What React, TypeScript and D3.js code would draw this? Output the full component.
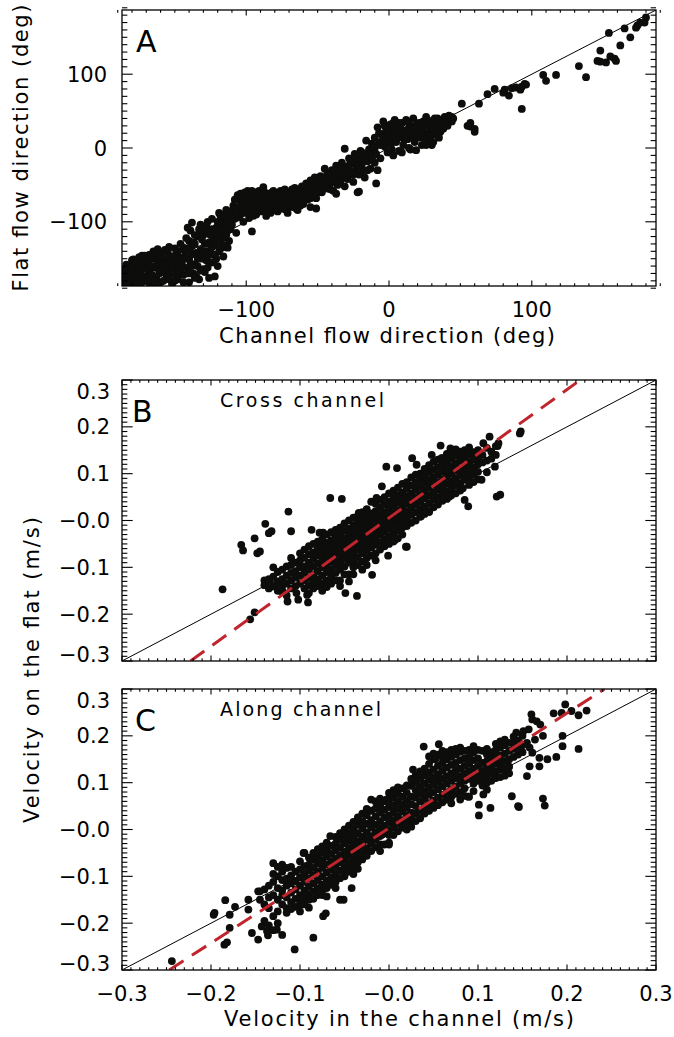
import React from 'react';
import * as d3 from 'd3';

type Pt = [number, number];

const FONT = "'DejaVu Sans', Verdana, sans-serif";
const MINUS = '\u2212';

// ---------- Panel A : flow direction (deg), [channel, flat] ----------
const dirLowerBlob: Pt[] = [
  [-186,-184],[-185,-176],[-184,-168],[-183,-181],[-182,-160],[-181,-172],[-180,-152],[-179,-184],[-178,-165],[-177,-176],
  [-176,-158],[-175,-148],[-174,-170],[-173,-182],[-172,-162],[-171,-146],[-170,-176],[-169,-155],[-168,-168],[-167,-185],
  [-166,-150],[-165,-140],[-164,-162],[-163,-175],[-162,-156],[-161,-143],[-160,-182],[-159,-168],[-158,-152],[-157,-138],
  [-156,-176],[-155,-160],[-154,-146],[-153,-170],[-152,-184],[-151,-155],[-150,-136],[-149,-165],[-148,-178],[-147,-148],
  [-146,-130],[-145,-158],[-144,-172],[-143,-140],[-142,-122],[-141,-164],[-140,-182],[-140,-150],[-139,-112],[-138,-132],
  [-137,-170],[-136,-158],[-135,-142],[-134,-120],[-133,-178],[-132,-104],[-131,-150],[-130,-164],[-129,-130],[-128,-140],
  [-127,-115],[-126,-176],[-125,-155],[-124,-96],[-123,-125],[-122,-145],[-121,-108],[-120,-160],[-119,-88],[-118,-118],
  [-117,-135],[-116,-147],[-115,-100],[-114,-84],[-113,-112],[-112,-126],[-111,-92],[-110,-104],[-109,-78],[-108,-96],
  [-107,-115],[-106,-86],[-105,-70],
  [-183,-176],[-178,-178],[-174,-160],[-170,-164],[-166,-172],[-163,-148],[-160,-160],[-157,-165],[-154,-178],[-150,-146],
  [-148,-158],[-146,-170],[-144,-135],[-142,-150],[-140,-126],[-138,-144],[-136,-118],[-134,-160],[-132,-138],[-130,-118],
  [-128,-152],[-126,-128],[-124,-110],[-122,-132],[-120,-100],[-118,-104],[-116,-122],[-112,-98],[-110,-88],[-122,-174],
  [-135,-174],[-138,-101],[-141,-108],[-179,-151],[-173,-146],[-162,-137],[-154,-134],[-186,-170],[-182,-185],[-177,-168],
  [-171,-180],[-168,-158],[-164,-184],[-159,-145],[-156,-168],[-152,-162],[-149,-174],[-145,-150],[-143,-162],[-139,-156],
  [-137,-128],[-133,-145],[-131,-112],[-129,-168],[-127,-100],[-125,-138],[-121,-150],[-119,-128],[-117,-94],[-114,-108],
  [-113,-135],
  [-185,-165],[-184,-158],[-181,-178],[-180,-166],[-178,-155],[-176,-182],[-175,-166],[-173,-152],[-172,-174],[-169,-178],
  [-168,-145],[-166,-160],[-165,-180],[-163,-162],[-161,-170],[-160,-150],[-158,-180],[-157,-158],[-155,-140],[-155,-172],
  [-153,-152],[-151,-168],[-150,-180],[-148,-140],[-147,-165],[-146,-152],[-144,-182],[-143,-148],[-141,-136],[-140,-170],
  [-139,-140],[-138,-160],[-136,-130],[-136,-176],[-134,-150],[-133,-110],[-132,-166],[-131,-124],[-130,-140],[-129,-150],
  [-128,-106],[-127,-162],[-126,-145],[-125,-118],[-124,-134],[-123,-155],[-122,-112],[-121,-128],[-120,-118],[-119,-140],
  [-118,-92],[-117,-110],[-116,-132],[-115,-90],[-114,-118],[-113,-100],[-112,-86],[-111,-110],[-110,-96],
];

const dirMidBand: Pt[] = [
  [-104,-62],[-104,-90],[-103,-75],[-102,-100],[-101,-68],[-100,-84],[-99,-58],[-98,-95],[-97,-72],[-96,-113],
  [-95,-80],[-94,-64],[-93,-90],[-92,-74],[-91,-58],[-90,-86],[-89,-68],[-88,-53],[-87,-78],[-86,-92],
  [-85,-64],[-84,-72],[-83,-88],[-82,-60],[-81,-80],[-80,-68],[-79,-62],[-78,-86],[-77,-74],[-76,-58],
  [-75,-82],[-74,-66],[-73,-56],[-72,-76],[-71,-88],[-70,-64],[-69,-70],[-68,-56],[-67,-80],[-66,-62],
  [-65,-72],[-64,-84],[-63,-58],[-62,-66],[-61,-52],[-60,-76],[-102,-80],[-99,-88],[-96,-70],[-94,-82],
  [-92,-64],[-90,-76],[-88,-84],[-86,-70],[-84,-62],[-82,-76],[-80,-84],[-78,-70],[-76,-78],[-74,-74],
  [-72,-62],[-70,-80],[-68,-68],[-66,-76],[-64,-64],[-62,-78],[-55,-80],[-51,-82],
  [-108,-70],[-107,-82],[-106,-64],[-105,-94],[-104,-78],[-103,-66],[-102,-88],[-101,-60],[-100,-72],[-99,-80],
  [-98,-66],[-97,-86],[-96,-58],[-95,-92],[-94,-72],[-93,-60],[-92,-84],[-91,-70],[-90,-62],[-89,-80],
  [-88,-72],[-87,-60],[-86,-82],[-85,-74],[-84,-86],[-83,-64],[-82,-68],[-81,-58],[-80,-76],[-79,-82],
  [-78,-62],[-77,-66],[-76,-72],[-75,-60],[-74,-82],[-73,-70],[-72,-84],[-71,-60],[-70,-72],[-69,-62],
  [-68,-78],[-67,-66],[-66,-54],[-65,-82],[-64,-74],[-63,-68],[-62,-58],[-61,-72],[-60,-62],
];

const dirSteepBand: Pt[] = [
  [-59,-60],[-58,-48],[-57,-70],[-56,-56],[-55,-44],[-54,-62],[-53,-52],[-52,-40],[-51,-68],[-50,-56],
  [-49,-46],[-48,-38],[-47,-60],[-46,-50],[-45,-28],[-44,-42],[-43,-55],[-42,-36],[-41,-48],[-40,-30],
  [-39,-58],[-38,-40],[-37,-24],[-36,-50],[-35,-34],[-34,-44],[-33,-20],[-32,-36],[-31,-1],[-31,-52],
  [-30,-26],[-29,-42],[-28,-14],[-27,-32],[-26,-20],[-25,-46],[-24,-8],[-23,-28],[-22,-60],[-22,-16],
  [-21,-36],[-20,-4],[-19,-22],[-18,-12],[-17,-40],[-16,10],[-15,-18],[-14,-2],[-13,-28],[-12,6],
  [-11,-10],[-10,-20],[-9,-48],[-10,14],
  [-58,-64],[-56,-66],[-54,-50],[-52,-58],[-50,-44],[-48,-52],[-46,-40],[-44,-54],[-42,-46],[-40,-40],
  [-38,-32],[-36,-38],[-34,-30],[-32,-26],[-30,-38],[-28,-24],[-26,-34],[-24,-18],[-22,-26],[-20,-14],
  [-18,-30],[-16,-8],[-14,-16],[-12,-4],[-10,0],[-37,-62],[-21,-59],
  [-59,-52],[-57,-58],[-55,-68],[-53,-44],[-51,-50],[-49,-60],[-47,-42],[-45,-52],[-43,-34],[-41,-56],
  [-39,-44],[-37,-32],[-35,-46],[-33,-28],[-31,-40],[-29,-30],[-27,-20],[-25,-36],[-23,-14],[-21,-24],
  [-19,-6],[-17,-16],[-15,-30],[-13,-8],[-11,2],[-9,-8],[-8,-30],[-7,20],
];

const dirUpperBand: Pt[] = [
  [-8,28],[-7,8],[-6,-14],[-5,18],[-4,36],[-3,2],[-2,24],[-1,-6],[0,12],[1,32],
  [2,-2],[3,20],[4,38],[5,8],[6,26],[7,-4],[8,16],[9,34],[10,4],[11,22],
  [12,38],[13,12],[14,28],[15,-2],[16,18],[17,40],[18,8],[19,-3],[20,24],[21,34],
  [22,14],[23,4],[24,28],[25,20],[26,42],[27,10],[28,32],[29,24],[30,4],[31,36],
  [32,18],[33,28],[34,40],[35,14],[36,30],[37,36],[38,26],[39,42],[40,32],[41,38],
  [42,44],[43,36],[44,42],[45,40],[26,4],[31,8],
  [-6,4],[-4,14],[-2,8],[0,26],[2,14],[4,28],[6,14],[8,30],[10,14],[12,24],
  [14,20],[16,30],[18,26],[20,32],[22,22],[24,36],[28,18],[30,26],[33,34],[36,22],
  [-3,30],[-1,16],[1,6],[3,34],[5,22],[7,34],[9,20],[11,12],[13,36],[15,26],
  [17,14],[19,30],[21,20],[23,34],[25,12],[27,38],[29,16],[32,40],[35,36],[38,34],
  [41,30],[44,36],[3,-10],[9,-6],[14,0],
];

const dirOutliers: Pt[] = [
  [180,177],[179,170],[176,170],[174,166],[173,163],[165,162],[169,150],[162,139],[154,156],[148,132],
  [146,118],[148,117],[152,116],[155,124],[158,121],[159,118],[133,111],[138,96],[117,99],[108,99],
  [110,91],[96,86],[92,79],[93,53],[86,81],[84,71],[81,79],[80,75],[74,80],[69,73],
  [63,60],[51,60],[57,34],[57,29],[55,30],[60,26],[60,22],[93,83],[95,87],[89,82],
];

// ---------- Panel B : cross-channel velocity (m/s), [channel, flat] ----------
const crossCore: Pt[] = [
  [-0.140,-0.138],[-0.140,-0.128],[-0.135,-0.145],[-0.135,-0.125],[-0.135,-0.133],
  [-0.130,-0.140],[-0.130,-0.120],[-0.130,-0.100],[-0.125,-0.130],[-0.125,-0.110],[-0.125,-0.150],
  [-0.120,-0.125],[-0.120,-0.105],[-0.120,-0.140],[-0.120,-0.152],
  [-0.115,-0.098],[-0.115,-0.118],[-0.115,-0.135],[-0.115,-0.160],
  [-0.110,-0.095],[-0.110,-0.112],[-0.110,-0.128],[-0.110,-0.145],
  [-0.105,-0.090],[-0.105,-0.108],[-0.105,-0.122],[-0.105,-0.140],
  [-0.100,-0.085],[-0.100,-0.100],[-0.100,-0.118],[-0.100,-0.135],
  [-0.095,-0.080],[-0.095,-0.098],[-0.095,-0.112],[-0.095,-0.128],[-0.095,-0.145],
  [-0.090,-0.072],[-0.090,-0.090],[-0.090,-0.105],[-0.090,-0.122],[-0.090,-0.138],
  [-0.085,-0.068],[-0.085,-0.082],[-0.085,-0.098],[-0.085,-0.115],[-0.085,-0.130],
  [-0.080,-0.060],[-0.080,-0.075],[-0.080,-0.092],[-0.080,-0.108],[-0.080,-0.125],[-0.080,-0.045],
  [-0.075,-0.055],[-0.075,-0.070],[-0.075,-0.085],[-0.075,-0.100],[-0.075,-0.118],[-0.075,-0.135],
  [-0.070,-0.048],[-0.070,-0.062],[-0.070,-0.078],[-0.070,-0.095],[-0.070,-0.110],[-0.070,-0.128],
  [-0.065,-0.042],[-0.065,-0.058],[-0.065,-0.072],[-0.065,-0.088],[-0.065,-0.104],[-0.065,-0.120],
  [-0.060,-0.035],[-0.060,-0.050],[-0.060,-0.065],[-0.060,-0.080],[-0.060,-0.095],[-0.060,-0.112],
  [-0.055,-0.030],[-0.055,-0.045],[-0.055,-0.060],[-0.055,-0.074],[-0.055,-0.090],[-0.055,-0.105],[-0.055,-0.128],
  [-0.050,-0.022],[-0.050,-0.038],[-0.050,-0.052],[-0.050,-0.068],[-0.050,-0.082],[-0.050,-0.098],
  [-0.045,-0.018],[-0.045,-0.032],[-0.045,-0.046],[-0.045,-0.060],[-0.045,-0.075],[-0.045,-0.090],[-0.045,-0.115],
  [-0.040,-0.010],[-0.040,-0.025],[-0.040,-0.040],[-0.040,-0.055],[-0.040,-0.070],[-0.040,-0.085],[-0.040,-0.100],
  [-0.035,-0.005],[-0.035,-0.020],[-0.035,-0.034],[-0.035,-0.048],[-0.035,-0.062],[-0.035,-0.078],[-0.035,0.010],
  [-0.030,0.002],[-0.030,-0.012],[-0.030,-0.027],[-0.030,-0.042],[-0.030,-0.056],[-0.030,-0.070],[-0.030,-0.088],
  [-0.025,0.008],[-0.025,-0.006],[-0.025,-0.020],[-0.025,-0.035],[-0.025,-0.050],[-0.025,-0.064],[-0.025,-0.080],
  [-0.020,0.015],[-0.020,0.000],[-0.020,-0.014],[-0.020,-0.028],[-0.020,-0.042],[-0.020,-0.058],[-0.020,0.040],
  [-0.015,0.020],[-0.015,0.006],[-0.015,-0.008],[-0.015,-0.022],[-0.015,-0.036],[-0.015,-0.052],[-0.015,-0.070],
  [-0.010,0.028],[-0.010,0.012],[-0.010,-0.002],[-0.010,-0.016],[-0.010,-0.030],[-0.010,-0.046],
  [-0.005,0.034],[-0.005,0.018],[-0.005,0.004],[-0.005,-0.010],[-0.005,-0.024],[-0.005,-0.040],
  [0.000,0.040],[0.000,0.025],[0.000,0.010],[0.000,-0.004],[0.000,-0.018],[0.000,-0.034],
  [0.005,0.048],[0.005,0.032],[0.005,0.016],[0.005,0.002],[0.005,-0.012],[0.005,-0.028],
  [0.010,0.054],[0.010,0.038],[0.010,0.022],[0.010,0.008],[0.010,-0.006],[0.010,-0.022],
  [0.015,0.060],[0.015,0.045],[0.015,0.030],[0.015,0.015],[0.015,0.000],[0.015,-0.015],
  [0.020,0.068],[0.020,0.052],[0.020,0.036],[0.020,0.020],[0.020,0.005],[0.020,0.082],
  [0.025,0.075],[0.025,0.058],[0.025,0.042],[0.025,0.028],[0.025,0.012],
  [0.030,0.082],[0.030,0.066],[0.030,0.050],[0.030,0.034],[0.030,0.018],
  [0.035,0.088],[0.035,0.072],[0.035,0.056],[0.035,0.040],[0.035,0.024],[0.035,0.100],
  [0.040,0.095],[0.040,0.080],[0.040,0.064],[0.040,0.048],[0.040,0.030],
  [0.045,0.102],[0.045,0.086],[0.045,0.070],[0.045,0.054],[0.045,0.036],[0.045,0.018],
  [0.050,0.108],[0.050,0.092],[0.050,0.076],[0.050,0.060],[0.050,0.044],[0.050,0.125],
  [0.055,0.114],[0.055,0.098],[0.055,0.082],[0.055,0.066],[0.055,0.050],
  [0.060,0.120],[0.060,0.104],[0.060,0.088],[0.060,0.072],[0.060,0.058],[0.060,0.133],
  [0.065,0.126],[0.065,0.110],[0.065,0.094],[0.065,0.078],[0.065,0.062],
  [0.070,0.132],[0.070,0.116],[0.070,0.100],[0.070,0.084],[0.070,0.068],
  [0.075,0.138],[0.075,0.122],[0.075,0.106],[0.075,0.090],[0.075,0.074],
  [0.080,0.144],[0.080,0.128],[0.080,0.112],[0.080,0.096],[0.080,0.080],
  [0.085,0.135],[0.085,0.118],[0.085,0.102],[0.085,0.087],
  [0.090,0.140],[0.090,0.124],[0.090,0.108],[0.090,0.092],
  [0.095,0.146],[0.095,0.130],[0.095,0.114],[0.095,0.098],
  [0.100,0.150],[0.100,0.135],[0.100,0.120],[0.100,0.104],
  [0.105,0.140],[0.105,0.124],[0.110,0.155],[0.110,0.128],[0.115,0.147],[0.115,0.132],
  [0.120,0.159],[0.120,0.140],
];

const crossSpread: Pt[] = [
  [-0.090,-0.155],[-0.085,-0.145],[-0.080,-0.140],[-0.075,-0.150],[-0.070,-0.142],[-0.065,-0.135],[-0.060,-0.128],
  [-0.055,-0.140],[-0.050,-0.115],[-0.045,-0.130],[-0.040,-0.115],[-0.035,-0.095],[-0.030,-0.105],[-0.025,-0.095],
  [-0.020,-0.075],[-0.015,-0.085],[-0.010,-0.062],[-0.005,-0.055],[0.000,-0.050],[0.005,-0.045],[0.010,-0.038],
  [0.015,-0.030],[0.020,-0.012],[0.025,-0.005],[0.030,0.000],[0.035,0.008],[0.040,0.014],[0.045,0.020],
  [0.050,0.028],[0.055,0.034],[0.060,0.042],[0.065,0.046],[0.070,0.054],[0.075,0.058],[0.080,0.064],
  [0.090,0.076],[0.095,0.082],[0.100,0.088],
  [-0.110,-0.080],[-0.100,-0.070],[-0.095,-0.062],[-0.090,-0.055],[-0.085,-0.050],[-0.075,-0.040],[-0.070,-0.030],
  [-0.065,-0.025],[-0.060,-0.020],[-0.055,-0.015],[-0.050,-0.006],[-0.045,0.000],[-0.040,0.006],[-0.030,0.018],
  [-0.025,0.024],[-0.015,0.036],[-0.010,0.044],[-0.005,0.050],[0.000,0.058],[0.005,0.064],[0.010,0.070],
  [0.015,0.078],[0.025,0.092],[0.030,0.098],[0.040,0.110],[0.045,0.118],[0.055,0.130],[0.065,0.142],
  [0.070,0.148],[0.075,0.152],[0.085,0.150],[0.090,0.156],
];

const crossOutliers: Pt[] = [
  [-0.187,-0.147],[-0.166,-0.052],[-0.164,-0.064],[-0.151,-0.038],[-0.148,-0.070],[-0.145,-0.066],[-0.139,-0.007],
  [-0.135,-0.027],[-0.132,-0.023],[-0.113,0.019],[-0.110,-0.023],[-0.156,-0.211],[-0.151,-0.196],[-0.087,-0.020],
  [-0.078,-0.026],[-0.074,-0.026],[-0.066,0.048],[-0.053,0.046],[-0.036,-0.161],[-0.134,-0.130],[-0.132,-0.141],
  [-0.124,-0.141],[-0.119,-0.152],[-0.114,-0.173],[-0.104,-0.155],[-0.102,-0.169],[-0.092,-0.159],[-0.091,-0.175],
  [-0.049,-0.155],[-0.019,-0.116],[0.019,-0.056],[-0.001,-0.075],[-0.003,0.115],[0.009,0.112],[-0.008,0.073],
  [-0.014,0.048],[-0.034,0.016],[0.026,0.133],[0.031,0.119],[0.048,0.140],[0.059,0.133],[0.058,0.160],
  [0.069,0.154],[0.080,0.147],[0.083,0.137],[0.095,0.133],[0.106,0.165],[0.113,0.179],[0.122,0.159],
  [0.123,0.165],[0.148,0.190],[0.147,0.186],[0.091,0.108],[0.110,0.103],[0.119,0.115],[0.104,0.087],
  [0.083,0.069],[0.085,0.044],[0.089,0.030],[0.068,0.051],[0.121,0.051],[0.125,0.055],[0.036,0.009],
  [0.020,-0.056],[0.007,-0.041],[0.018,-0.009],
];

// ---------- Panel C : along-channel velocity (m/s), [channel, flat] ----------
const alongCore: Pt[] = [
  [-0.145,-0.132],[-0.145,-0.150],[-0.140,-0.128],[-0.140,-0.160],[-0.140,-0.195],
  [-0.135,-0.120],[-0.135,-0.145],[-0.135,-0.168],[-0.135,-0.205],
  [-0.130,-0.072],[-0.130,-0.095],[-0.130,-0.140],[-0.130,-0.112],[-0.130,-0.185],[-0.130,-0.215],
  [-0.125,-0.080],[-0.125,-0.100],[-0.125,-0.125],[-0.125,-0.150],[-0.125,-0.175],[-0.125,-0.200],
  [-0.120,-0.090],[-0.120,-0.108],[-0.120,-0.130],[-0.120,-0.160],[-0.120,-0.140],[-0.120,-0.225],
  [-0.115,-0.082],[-0.115,-0.105],[-0.115,-0.120],[-0.115,-0.145],[-0.115,-0.168],[-0.115,-0.178],
  [-0.110,-0.098],[-0.110,-0.115],[-0.110,-0.135],[-0.110,-0.155],[-0.110,-0.107],
  [-0.105,-0.090],[-0.105,-0.110],[-0.105,-0.128],[-0.105,-0.148],[-0.105,-0.165],
  [-0.100,-0.085],[-0.100,-0.102],[-0.100,-0.120],[-0.100,-0.140],[-0.100,-0.150],[-0.100,-0.160],
  [-0.095,-0.050],[-0.095,-0.078],[-0.095,-0.095],[-0.095,-0.112],[-0.095,-0.130],[-0.095,-0.145],
  [-0.090,-0.075],[-0.090,-0.088],[-0.090,-0.105],[-0.090,-0.122],[-0.090,-0.138],[-0.090,-0.167],
  [-0.085,-0.065],[-0.085,-0.082],[-0.085,-0.098],[-0.085,-0.115],[-0.085,-0.132],
  [-0.080,-0.057],[-0.080,-0.072],[-0.080,-0.090],[-0.080,-0.108],[-0.080,-0.125],
  [-0.075,-0.050],[-0.075,-0.066],[-0.075,-0.082],[-0.075,-0.100],[-0.075,-0.118],[-0.075,-0.140],
  [-0.070,-0.042],[-0.070,-0.058],[-0.070,-0.075],[-0.070,-0.092],[-0.070,-0.110],[-0.070,-0.143],
  [-0.065,-0.035],[-0.065,-0.052],[-0.065,-0.068],[-0.065,-0.085],[-0.065,-0.102],
  [-0.060,-0.030],[-0.060,-0.045],[-0.060,-0.062],[-0.060,-0.078],[-0.060,-0.095],[-0.060,-0.112],[-0.060,-0.125],
  [-0.055,-0.022],[-0.055,-0.038],[-0.055,-0.055],[-0.055,-0.070],[-0.055,-0.088],
  [-0.050,-0.015],[-0.050,-0.030],[-0.050,-0.048],[-0.050,-0.064],[-0.050,-0.080],[-0.050,-0.100],
  [-0.045,-0.008],[-0.045,-0.024],[-0.045,-0.040],[-0.045,-0.056],[-0.045,-0.072],[-0.045,-0.090],
  [-0.040,0.000],[-0.040,-0.016],[-0.040,-0.032],[-0.040,-0.048],[-0.040,-0.064],[-0.040,-0.080],
  [-0.035,0.010],[-0.035,-0.008],[-0.035,-0.025],[-0.035,-0.040],[-0.035,-0.056],[-0.035,-0.070],
  [-0.030,0.018],[-0.030,0.002],[-0.030,-0.016],[-0.030,-0.032],[-0.030,-0.048],
  [-0.025,0.030],[-0.025,0.012],[-0.025,-0.006],[-0.025,-0.022],[-0.025,-0.040],
  [-0.020,0.040],[-0.020,0.064],[-0.020,0.020],[-0.020,0.004],[-0.020,-0.014],[-0.020,-0.030],
  [-0.015,0.045],[-0.015,0.028],[-0.015,0.010],[-0.015,-0.006],[-0.015,-0.022],
  [-0.010,0.052],[-0.010,0.036],[-0.010,0.018],[-0.010,0.002],[-0.010,-0.014],[-0.010,-0.032],
  [-0.005,0.060],[-0.005,0.042],[-0.005,0.026],[-0.005,0.008],[-0.005,-0.008],[-0.005,-0.032],
  [0.000,0.064],[0.000,0.048],[0.000,0.030],[0.000,0.014],[0.000,-0.002],[0.000,-0.028],
  [0.005,0.068],[0.005,0.052],[0.005,0.036],[0.005,0.020],[0.005,0.004],
  [0.010,0.060],[0.010,0.044],[0.010,0.028],[0.010,0.012],[0.010,0.076],
  [0.015,0.070],[0.015,0.054],[0.015,0.038],[0.015,0.020],[0.015,0.088],
  [0.020,0.078],[0.020,0.062],[0.020,0.046],[0.020,0.030],[0.020,0.016],
  [0.025,0.093],[0.025,0.070],[0.025,0.054],[0.025,0.036],[0.025,0.022],
  [0.030,0.100],[0.030,0.084],[0.030,0.068],[0.030,0.050],[0.030,0.034],
  [0.035,0.108],[0.035,0.092],[0.035,0.076],[0.035,0.060],[0.035,0.040],
  [0.040,0.115],[0.040,0.098],[0.040,0.082],[0.040,0.066],[0.040,0.050],
  [0.045,0.122],[0.045,0.106],[0.045,0.090],[0.045,0.074],[0.045,0.056],[0.045,0.140],
  [0.050,0.128],[0.050,0.112],[0.050,0.096],[0.050,0.080],[0.050,0.062],[0.050,0.150],
  [0.055,0.136],[0.055,0.118],[0.055,0.102],[0.055,0.086],[0.055,0.068],[0.055,0.160],
  [0.060,0.142],[0.060,0.125],[0.060,0.108],[0.060,0.092],[0.060,0.074],[0.060,0.155],
  [0.065,0.150],[0.065,0.132],[0.065,0.114],[0.065,0.098],[0.065,0.080],[0.065,0.165],
  [0.070,0.155],[0.070,0.138],[0.070,0.120],[0.070,0.104],[0.070,0.086],[0.070,0.070],
  [0.075,0.160],[0.075,0.142],[0.075,0.126],[0.075,0.110],[0.075,0.092],
  [0.080,0.166],[0.080,0.148],[0.080,0.130],[0.080,0.114],[0.080,0.098],[0.080,0.080],
  [0.085,0.168],[0.085,0.152],[0.085,0.136],[0.085,0.120],[0.085,0.104],[0.085,0.088],
  [0.090,0.170],[0.090,0.155],[0.090,0.140],[0.090,0.124],[0.090,0.108],[0.090,0.070],
  [0.095,0.165],[0.095,0.148],[0.095,0.130],[0.095,0.114],[0.095,0.098],
  [0.100,0.170],[0.100,0.152],[0.100,0.136],[0.100,0.120],[0.100,0.104],
  [0.105,0.168],[0.105,0.142],[0.105,0.125],[0.105,0.110],
  [0.110,0.160],[0.110,0.146],[0.110,0.130],[0.110,0.116],[0.110,0.100],
  [0.115,0.165],[0.115,0.150],[0.115,0.135],[0.115,0.120],
  [0.120,0.170],[0.120,0.155],[0.120,0.140],[0.120,0.124],[0.120,0.110],
  [0.125,0.175],[0.125,0.158],[0.125,0.142],[0.125,0.128],[0.125,0.188],
  [0.130,0.180],[0.130,0.162],[0.130,0.146],[0.130,0.130],
  [0.135,0.168],[0.135,0.150],[0.135,0.134],[0.135,0.185],
  [0.140,0.185],[0.140,0.172],[0.140,0.155],[0.145,0.190],[0.145,0.176],[0.145,0.160],
  [0.150,0.200],[0.150,0.180],[0.150,0.165],
];

const alongSpread: Pt[] = [
  [-0.110,-0.170],[-0.100,-0.175],[-0.095,-0.160],[-0.090,-0.150],[-0.085,-0.148],[-0.080,-0.140],[-0.075,-0.130],
  [-0.070,-0.125],[-0.065,-0.118],[-0.060,-0.108],[-0.055,-0.104],[-0.050,-0.095],[-0.045,-0.088],[-0.040,-0.095],
  [-0.035,-0.084],[-0.030,-0.064],[-0.025,-0.056],[-0.020,-0.046],[-0.015,-0.038],[-0.010,-0.046],[0.000,-0.012],
  [0.005,-0.012],[0.010,-0.004],[0.015,0.004],[0.020,0.000],[0.025,0.006],[0.030,0.018],[0.035,0.024],
  [0.040,0.034],[0.045,0.040],[0.050,0.046],[0.055,0.052],[0.060,0.058],[0.065,0.064],[0.070,0.056],
  [0.075,0.076],[0.080,0.064],[0.085,0.072],[0.095,0.082],[0.105,0.094],[0.110,0.085],[0.115,0.104],
  [0.125,0.112],[0.130,0.115],[0.135,0.120],
  [-0.120,-0.075],[-0.110,-0.080],[-0.100,-0.068],[-0.090,-0.060],[-0.085,-0.050],[-0.080,-0.042],[-0.075,-0.036],
  [-0.070,-0.028],[-0.060,-0.016],[-0.055,-0.008],[-0.050,0.000],[-0.045,0.008],[-0.040,0.016],[-0.035,0.026],
  [-0.030,0.034],[-0.025,0.044],[-0.015,0.060],[-0.010,0.066],[0.000,0.078],[0.005,0.084],[0.010,0.090],
  [0.020,0.094],[0.025,0.108],[0.030,0.116],[0.035,0.124],[0.040,0.130],[0.045,0.156],[0.050,0.162],
  [0.060,0.168],[0.070,0.170],[0.075,0.172],[0.080,0.175],[0.095,0.178],[0.110,0.172],[0.120,0.183],
  [0.130,0.192],[0.140,0.198],
];

const alongOutliers: Pt[] = [
  [-0.244,-0.281],[-0.185,-0.246],[-0.182,-0.241],[-0.196,-0.178],[-0.197,-0.182],[-0.184,-0.151],[-0.173,-0.165],
  [-0.179,-0.182],[-0.179,-0.210],[-0.158,-0.150],[-0.158,-0.171],[-0.154,-0.221],[-0.147,-0.235],[-0.147,-0.132],
  [-0.143,-0.207],[-0.137,-0.217],[-0.136,-0.226],[-0.126,-0.214],[-0.106,-0.256],[-0.085,-0.231],[-0.074,-0.185],
  [-0.071,-0.179],[-0.096,-0.050],[-0.066,-0.014],[-0.055,-0.150],[-0.051,-0.150],[-0.042,-0.125],
  [0.039,0.177],[0.056,0.182],[0.027,0.128],[0.052,0.150],[0.160,0.246],[0.161,0.235],[0.143,0.207],
  [0.151,0.210],[0.157,0.214],[0.166,0.231],[0.170,0.224],[0.173,0.200],[0.185,0.248],[0.194,0.249],
  [0.198,0.267],[0.205,0.253],[0.213,0.244],[0.222,0.254],[0.195,0.200],[0.195,0.178],[0.213,0.172],
  [0.188,0.155],[0.178,0.150],[0.169,0.153],[0.169,0.135],[0.158,0.135],[0.155,0.114],[0.138,0.071],
  [0.146,0.048],[0.145,0.050],[0.173,0.066],[0.175,0.051],[0.106,0.075],[0.101,0.053],[0.101,0.030],
  [0.114,0.046],[0.089,0.070],[-0.003,0.064],[-0.008,-0.011],[0.000,-0.032],[0.161,0.164],[0.158,0.175],
  [0.155,0.185],[0.164,0.192],
];

// ---------- axes ----------
const dirMajorTicks = [-100, 0, 100];
const dirTickLabels = [MINUS + '100', '0', '100'];
const velMajorTicks = [-0.3, -0.2, -0.1, 0, 0.1, 0.2, 0.3];
const velXTickLabels = [MINUS + '0.3', MINUS + '0.2', MINUS + '0.1', MINUS + '0.0', '0.1', '0.2', '0.3'];
const velYTickLabels = [MINUS + '0.3', MINUS + '0.2', MINUS + '0.1', MINUS + '0.0', '0.1', '0.2', '0.3'];

// regression fits [slope, intercept]
const crossFit = [1.37, 0.0055];
const alongFit = [1.227, 0.003];

const LEFT = 122;
const RIGHT = 656;

interface PanelProps {
  id: string;
  top: number;
  bottom: number;
  dom: number;
  pts: Pt[];
  major: number[];
  minorStep: number;
  xLabels?: string[];
  yLabels: string[];
  yLabelRight: number;
  letter: string;
  letterX: number;
  subtitle?: string;
  subLen?: number;
  fit?: number[];
}

function Panel(p: PanelProps) {
  const x = d3.scaleLinear().domain([-p.dom, p.dom]).range([LEFT, RIGHT]);
  const y = d3.scaleLinear().domain([-p.dom, p.dom]).range([p.bottom, p.top]);
  const W = RIGHT - LEFT;
  const H = p.bottom - p.top;
  const yMajLen = 0.02 * W, yMinLen = 0.01 * W;
  const xMajLen = 0.02 * H, xMinLen = 0.01 * H;
  const n = Math.round(p.dom / p.minorStep);
  const minor = d3.range(-n, n + 1).map((i) => i * p.minorStep);
  const isMajor = (v: number) => p.major.some((m) => Math.abs(m - v) < p.minorStep * 0.01);
  const ticks: any[] = [];
  minor.forEach((v, i) => {
    const maj = isMajor(v);
    const xl = maj ? xMajLen : xMinLen;
    const yl = maj ? yMajLen : yMinLen;
    const xv = x(v), yv = y(v);
    ticks.push(<line key={'xb' + i} x1={xv} x2={xv} y1={p.bottom} y2={p.bottom - xl} />);
    ticks.push(<line key={'xt' + i} x1={xv} x2={xv} y1={p.top} y2={p.top + xl} />);
    ticks.push(<line key={'yl' + i} x1={LEFT} x2={LEFT + yl} y1={yv} y2={yv} />);
    ticks.push(<line key={'yr' + i} x1={RIGHT} x2={RIGHT - yl} y1={yv} y2={yv} />);
  });
  let fitLine = null;
  if (p.fit) {
    const [s, b] = p.fit;
    const x0 = (-p.dom - b) / s;
    const x1 = (p.dom - b) / s;
    fitLine = (
      <line x1={x(x0)} y1={y(-p.dom)} x2={x(x1)} y2={y(p.dom)} stroke="#c0242c" strokeWidth={3}
        strokeDasharray="17 10" />
    );
  }
  return (
    <g>
      <defs>
        <clipPath id={'clip' + p.id}>
          <rect x={LEFT} y={p.top} width={W} height={H} />
        </clipPath>
      </defs>
      <g clipPath={`url(#clip${p.id})`}>
        <line x1={x(-p.dom)} y1={y(-p.dom)} x2={x(p.dom)} y2={y(p.dom)} stroke="#000" strokeWidth={1} />
        {p.pts.map((d, i) => (
          <circle key={i} cx={x(d[0])} cy={y(d[1])} r={3.9} fill="#0d0d0b" />
        ))}
        {fitLine}
      </g>
      <g stroke="#000" strokeWidth={1.1}>{ticks}</g>
      <rect x={LEFT} y={p.top} width={W} height={H} fill="none" stroke="#000" strokeWidth={1.3} />
      <g fontFamily={FONT} fontSize={21} fill="#000">
        {p.major.map((v, i) => {
          const cy = Math.min(Math.max(y(v), p.top + 11), p.bottom - 7);
          return (
            <text key={'yt' + i} x={p.yLabelRight} y={cy} dy="0.36em" textAnchor="end">{p.yLabels[i]}</text>
          );
        })}
        {p.xLabels && p.major.map((v, i) => (
          <text key={'xt' + i} x={x(v)} y={p.bottom + 31} textAnchor="middle">{p.xLabels![i]}</text>
        ))}
      </g>
      <text x={p.letterX} y={p.top + 42} fontFamily={FONT} fontSize={30} fill="#000">{p.letter}</text>
      {p.subtitle && (
        <text x={220} y={p.top + 27} fontFamily={FONT} fontSize={19} fill="#000" textLength={p.subLen}
          lengthAdjust="spacing">{p.subtitle}</text>
      )}
    </g>
  );
}

export default function App() {
  const dirPts = [...dirLowerBlob, ...dirMidBand, ...dirSteepBand, ...dirUpperBand, ...dirOutliers];
  const crossPts = [...crossCore, ...crossSpread, ...crossOutliers];
  const alongPts = [...alongCore, ...alongSpread, ...alongOutliers];
  return (
    <svg width={674} height={1037} style={{ position: 'absolute', left: 0, top: 0, background: '#fff' }}>
      <rect width={674} height={1037} fill="#fff" />
      <Panel id="A" top={10} bottom={286} dom={187} pts={dirPts} major={dirMajorTicks} minorStep={10}
        xLabels={dirTickLabels} yLabels={dirTickLabels} yLabelRight={107} letter="A" letterX={136} />
      <Panel id="B" top={380} bottom={661} dom={0.3} pts={crossPts} major={velMajorTicks} minorStep={0.01}
        yLabels={velYTickLabels} yLabelRight={110} letter="B" letterX={132} subtitle="Cross channel" subLen={164}
        fit={crossFit} />
      <Panel id="C" top={689} bottom={970} dom={0.3} pts={alongPts} major={velMajorTicks} minorStep={0.01}
        xLabels={velXTickLabels} yLabels={velYTickLabels} yLabelRight={110} letter="C" letterX={135}
        subtitle="Along channel" subLen={161} fit={alongFit} />
      <g fontFamily={FONT} fontSize={21} fill="#000">
        <text x={219} y={343} textLength={336} lengthAdjust="spacing">Channel flow direction (deg)</text>
        <text x={224} y={1026} textLength={350} lengthAdjust="spacing">Velocity in the channel (m/s)</text>
        <text transform="translate(28,148) rotate(-90)" textAnchor="middle" textLength={287}
          lengthAdjust="spacing">Flat flow direction (deg)</text>
        <text transform="translate(39,670) rotate(-90)" textAnchor="middle" textLength={306}
          lengthAdjust="spacing">Velocity on the flat (m/s)</text>
      </g>
    </svg>
  );
}
